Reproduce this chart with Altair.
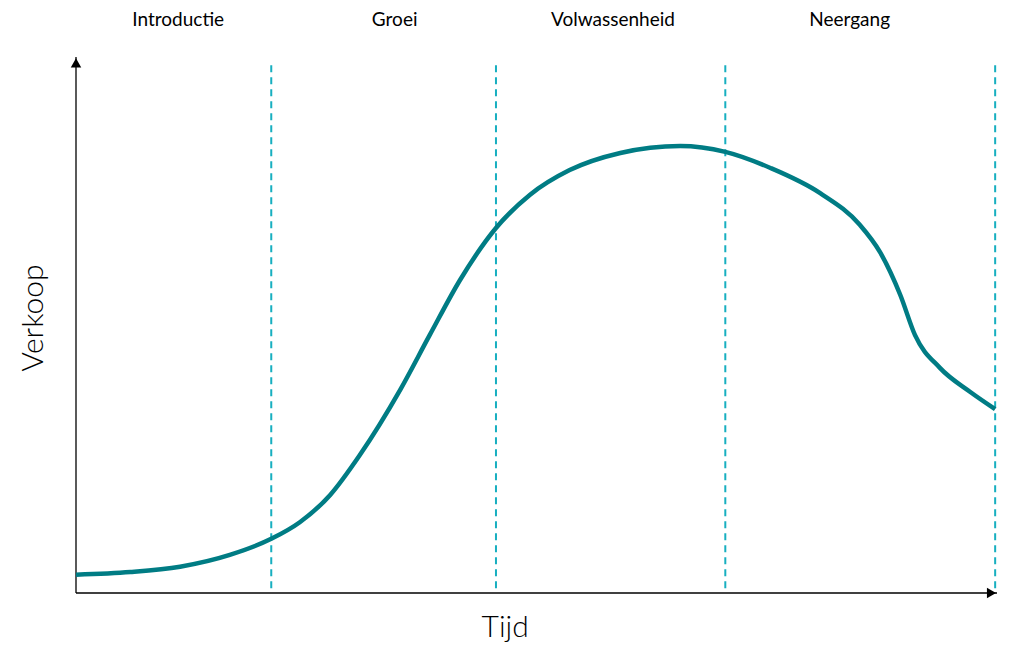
import altair as alt
import pandas as pd

# Curve (time 0-100, sales 0-100)
curve_x = [0, 5.9, 11.3, 16.7, 21.2, 24.3, 27.6, 30.8, 35.2, 38.4, 41.7, 45.6, 49.3, 53.6,
           59.1, 65.6, 70.5, 75.4, 80.8, 85.1, 87.3, 89.5, 91.1, 93.8, 97.1, 99.8]
curve_y = [3.4, 3.9, 4.9, 7.1, 10.1, 13.2, 18.3, 25.7, 37.9, 48.1, 58.4, 68.1, 74.3, 78.9,
           82.1, 83.4, 82.3, 79.3, 74.6, 68.7, 63.6, 55.6, 48.1, 42.0, 37.5, 34.3]

# Stage boundaries and labels
boundaries = [21.2, 45.6, 70.5, 99.8]
stages = ["Introductie", "Groei", "Volwassenheid", "Neergang"]
stage_x = [11.1, 34.6, 58.3, 84.0]

curve = pd.DataFrame({"x": curve_x, "y": curve_y})
bnd = pd.DataFrame({"x": boundaries, "y0": [0.9] * 4, "y1": [98.9] * 4})
lab = pd.DataFrame({"x": stage_x, "label": stages, "y": [106.9] * 4})

xs = alt.Scale(domain=[0, 100], nice=False, zero=False)
ys = alt.Scale(domain=[0, 100], nice=False, zero=False)
X = lambda f: alt.X(f, type="quantitative", scale=xs, axis=None)
Y = lambda f: alt.Y(f, type="quantitative", scale=ys, axis=None)

axes_df = pd.DataFrame({"x": [0, 0], "y": [0, 0], "x2": [0, 100], "y2": [100, 0]})
axes = alt.Chart(axes_df).mark_rule(color="black", strokeWidth=1.3).encode(
    x=X("x"), y=Y("y"), x2="x2", y2="y2")

arrows_df = pd.DataFrame({"x": [0, 99.4], "y": [98.9, 0], "shape": ["triangle-up", "triangle-right"]})
arrows = alt.Chart(arrows_df).mark_point(filled=True, color="black", size=110, opacity=1).encode(
    x=X("x"), y=Y("y"), shape=alt.Shape("shape:N", scale=None))

dashes = alt.Chart(bnd).mark_rule(color="#17AFC0", strokeWidth=2, strokeDash=[7, 5]).encode(
    x=X("x"), y=Y("y0"), y2="y1")

line = alt.Chart(curve).mark_line(color="#007C84", strokeWidth=4.5, interpolate="monotone").encode(
    x=X("x"), y=Y("y"))

labels = alt.Chart(lab).mark_text(font="Lato", fontSize=19, color="black").encode(
    x=X("x"), y=Y("y"), text="label:N")

ttl_df = pd.DataFrame({"x": [-4.6, 46.6], "y": [51.3, -6.6], "t": ["Verkoop", "Tijd"], "a": [270, 0]})
titles = alt.Chart(ttl_df).mark_text(font="Lato", fontSize=30, fontWeight=300, color="black").encode(
    x=X("x"), y=Y("y"), text="t:N", angle=alt.Angle("a:Q", scale=None))

chart = alt.layer(dashes, axes, arrows, line, labels, titles).properties(
    width=921, height=536,
    autosize=alt.AutoSizeParams(type="none"),
    padding={"left": 68, "top": 49, "right": 4, "bottom": 60},
).configure_view(stroke=None)

chart.save("out.html", embed_options={"renderer": "svg", "actions": False})
